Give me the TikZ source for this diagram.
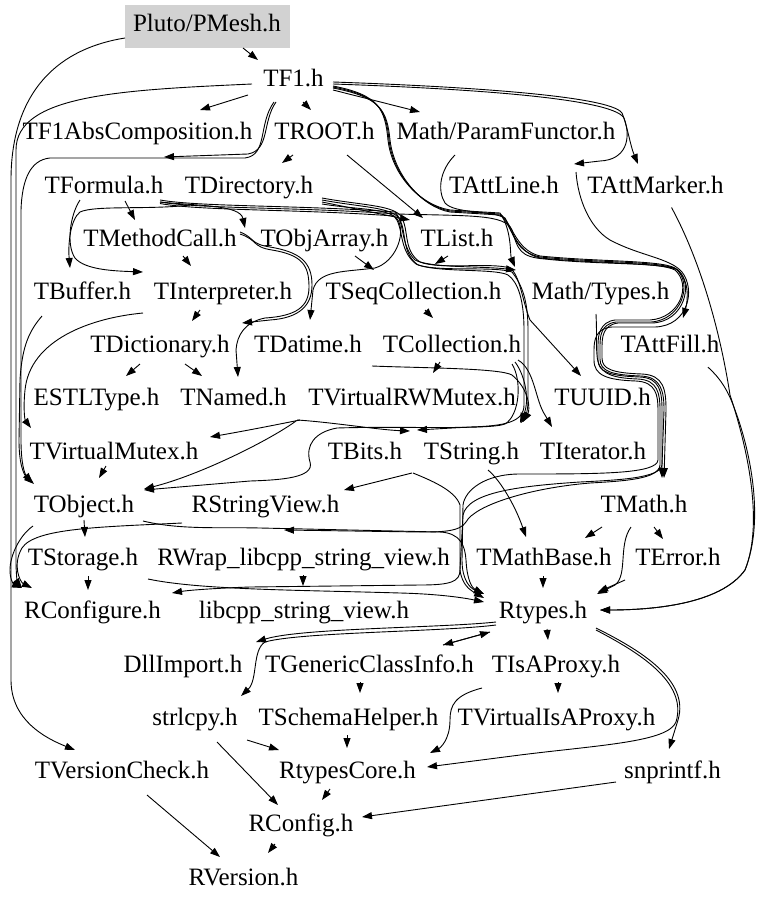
\documentclass[tikz,border=0pt]{standalone}
\usepackage{fontspec}
\setmainfont{Liberation Serif}
\usetikzlibrary{arrows.meta,calc}
\begin{document}
\begin{tikzpicture}[x=1pt,y=-1pt,
  nd/.style={font=\fontsize{25}{29}\selectfont, text height=16pt, text depth=5pt, inner sep=1pt, anchor=center},
  rootbox/.style={nd, fill=gray!35, minimum width=165pt, minimum height=43pt},
  e/.style={-{Triangle[length=10pt,width=7pt]}, line width=0.9pt}]
\useasboundingbox (0,0) rectangle (768,907);
% nodes
\node[rootbox] (pmesh) at (207,26.5) {Pluto/PMesh.h};
\node[nd] (tf1) at (293.5,81) {TF1.h};
\node[nd] (tfabs) at (137.5,134.3) {TF1AbsComposition.h};
\node[nd] (troot) at (324.5,134.3) {TROOT.h};
\node[nd] (param) at (506,134.3) {Math/ParamFunctor.h};
\node[nd] (tformula) at (104,187.5) {TFormula.h};
\node[nd] (tdirectory) at (249,187.5) {TDirectory.h};
\node[nd] (tattline) at (504,187.5) {TAttLine.h};
\node[nd] (tattmarker) at (655.5,187.5) {TAttMarker.h};
\node[nd] (tmethodcall) at (160,240.7) {TMethodCall.h};
\node[nd] (tobjarray) at (324.5,240.7) {TObjArray.h};
\node[nd] (tlist) at (457,240.7) {TList.h};
\node[nd] (tbuffer) at (82.5,294) {TBuffer.h};
\node[nd] (tinterp) at (223,294) {TInterpreter.h};
\node[nd] (tseqcoll) at (413.5,294) {TSeqCollection.h};
\node[nd] (mathtypes) at (600.5,294) {Math/Types.h};
\node[nd] (tdict) at (160,347.2) {TDictionary.h};
\node[nd] (tdatime) at (308,347.2) {TDatime.h};
\node[nd] (tcoll) at (452,347.2) {TCollection.h};
\node[nd] (tattfill) at (670,347.2) {TAttFill.h};
\node[nd] (estl) at (96.5,400.4) {ESTLType.h};
\node[nd] (tnamed) at (233.5,400.4) {TNamed.h};
\node[nd] (trwmutex) at (412,400.4) {TVirtualRWMutex.h};
\node[nd] (tuuid) at (602.5,400.4) {TUUID.h};
\node[nd] (tvmutex) at (114,453.6) {TVirtualMutex.h};
\node[nd] (tbits) at (365,453.6) {TBits.h};
\node[nd] (tstring) at (471.5,453.6) {TString.h};
\node[nd] (titer) at (593,453.6) {TIterator.h};
\node[nd] (tobject) at (84,506.9) {TObject.h};
\node[nd] (rsv) at (265.5,506.9) {RStringView.h};
\node[nd] (tmath) at (644,506.9) {TMath.h};
\node[nd] (tstorage) at (83,560.1) {TStorage.h};
\node[nd] (rwrap) at (303.5,560.1) {RWrap\_libcpp\_string\_view.h};
\node[nd] (tmathbase) at (544,560.1) {TMathBase.h};
\node[nd] (terror) at (678,560.1) {TError.h};
\node[nd] (rconf) at (92.5,613.3) {RConfigure.h};
\node[nd] (libcpp) at (304,613.3) {libcpp\_string\_view.h};
\node[nd] (rtypes) at (543,613.3) {Rtypes.h};
\node[nd] (dllimp) at (183,666.6) {DllImport.h};
\node[nd] (tgci) at (369.5,666.6) {TGenericClassInfo.h};
\node[nd] (tisa) at (556,666.6) {TIsAProxy.h};
\node[nd] (strlcpy) at (195,719.8) {strlcpy.h};
\node[nd] (tschema) at (348.5,719.8) {TSchemaHelper.h};
\node[nd] (tvisa) at (556.5,719.8) {TVirtualIsAProxy.h};
\node[nd] (tvc) at (122,773) {TVersionCheck.h};
\node[nd] (rtcore) at (347.5,773) {RtypesCore.h};
\node[nd] (snprintf) at (672.5,773) {snprintf.h};
\node[nd] (rconfig) at (301,826.3) {RConfig.h};
\node[nd] (rversion) at (243.5,879.5) {RVersion.h};
% ---- top edges
\draw[e] ($(pmesh)+(36,21.5)$) -- ($(tf1)+(-35.5,-21)$);
\draw[e] ($(pmesh)+(-82,11.5)$) .. controls (50,50) and (11,100) .. (11,180) -- (11,680) .. controls (11,720) and (45,738) .. ($(tvc)+(-47,-23)$);
\draw[e] ($(tf1)+(-41.5,3)$) .. controls (120,90) and (16,95) .. (16,150) -- (16,560) .. controls (16,578) and (18,583) .. ($(rconf)+(-70.5,-25.3)$);
\draw[e] ($(tf1)+(-45.5,14)$) -- ($(tfabs)+(62.5,-24.3)$);
\draw[e] ($(tf1)+(9.5,21)$) -- ($(troot)+(-13.5,-24.3)$);
\draw[e] ($(tf1)+(39.5,9)$) -- ($(param)+(-86,-22.3)$);
\draw[e] ($(tf1)+(39.5,1)$) .. controls (450,86) and (610,95) .. (622,113) .. controls (628,128) and (630,145) .. ($(tattmarker)+(-17.5,-23.5)$);
\draw[e] ($(tf1)+(39.5,3)$) .. controls (450,88) and (612,97) .. (624,118) .. controls (632,140) and (625,160) .. (600,161) -- ($(tattline)+(70,-23.5)$);
\draw[e] ($(tf1)+(-17.5,21)$) .. controls (262,122) and (270,150) .. (248,154) -- ($(tformula)+(60,-30.5)$);
\draw[e] ($(tf1)+(-19.5,21)$) .. controls (258,124) and (268,155) .. (245,158) -- (50,158) .. controls (30,160) and (22,180) .. (21,210) -- (21,440) .. controls (21,465) and (25,474) .. ($(tobject)+(-52,-23.9)$);
\draw[e] ($(troot)+(-31.5,20.7)$) -- ($(tdirectory)+(33,-24.5)$);
\draw[e] ($(troot)+(22.5,20.7)$) -- ($(tlist)+(-34,-22.7)$);
\draw[e] ($(tdirectory)+(73,14.5)$) -- ($(tlist)+(-47,-20.7)$);
% ---- bundles under TList and to the right
\draw[e] ($(tformula)+(56,12.5)$) .. controls (200,207) and (300,205) .. (395,212) .. controls (405,222) and (400,245) .. (415,260) .. controls (430,268) and (480,266) .. ($(mathtypes)+(-84.5,-24)$);
\draw[e] ($(tf1)+(39.5,5)$) .. controls (380,95) and (385,110) .. (388,140) .. controls (392,175) and (420,205) .. (450,210) -- (500,213) .. controls (512,230) and (510,255) .. ($(mathtypes)+(-85.5,-27)$);
\draw[e] ($(tf1)+(39.5,6)$) .. controls (380,96) and (386,110) .. (389,140) .. controls (393,175) and (421,206) .. (450,211) -- (500,214) .. controls (512,222) and (515,250) .. (540,256) .. controls (600,262) and (660,260) .. (675,268) .. controls (690,278) and (688,300) .. ($(tattfill)+(13,-29.2)$);
\draw[e] ($(tf1)+(39.5,7)$) .. controls (380,97) and (387,110) .. (390,140) .. controls (394,175) and (422,207) .. (450,212) -- (500,215) .. controls (512,224) and (514,252) .. (540,258) .. controls (600,264) and (660,262) .. (675,270) .. controls (692,285) and (680,318) .. (650,320) -- (615,320) .. controls (600,322) and (598,335) .. (598,345) -- (598,360) .. controls (598,372) and (610,376) .. (640,377) .. controls (660,378) and (662,392) .. (662,410) -- ($(tmath)+(18,-28.9)$);
\draw[e] ($(tformula)+(56,14.5)$) .. controls (200,209) and (300,207) .. (397,214) .. controls (470,216) and (505,214) .. (512,230) .. controls (518,250) and (520,257) .. (545,259) .. controls (600,265) and (662,262) .. (678,270) .. controls (694,284) and (684,322) .. (652,323) -- (618,323) .. controls (603,325) and (602,337) .. (602,347) -- (602,358) .. controls (602,369) and (612,373) .. (642,374) .. controls (664,375) and (666,390) .. (666,410) -- ($(tmath)+(20,-28.9)$);
\draw[e] ($(tattline)+(72,-15.5)$) .. controls (578,200) and (590,228) .. (610,240) .. controls (640,256) and (670,258) .. (682,272) .. controls (696,290) and (688,326) .. (655,327) -- (612,327) .. controls (596,328) and (594,340) .. (594,350) -- (594,360) .. controls (594,375) and (606,380) .. (636,381) .. controls (656,382) and (658,395) .. (658,410) -- (658,460) .. controls (657,474) and (600,474) .. (520,474) .. controls (485,474) and (465,490) .. (463,505) -- (462,560) .. controls (462,580) and (470,588) .. ($(rtypes)+(-59,-19.3)$);
\draw[e] ($(param)+(-51,20.7)$) .. controls (440,170) and (437,190) .. (445,203) .. controls (455,214) and (490,210) .. (505,218) .. controls (514,235) and (516,252) .. (540,257) .. controls (600,263) and (660,261) .. (676,269) .. controls (693,283) and (682,320) .. (651,322) -- (616,322) .. controls (601,324) and (600,336) .. (600,346) -- (600,359) .. controls (600,371) and (611,375) .. (641,376) .. controls (661,377) and (664,391) .. (664,410) -- (662,465) .. controls (660,478) and (620,480) .. (580,482) .. controls (520,486) and (468,492) .. (463,515) -- (460,570) .. controls (460,582) and (450,585) .. (420,585) -- (250,587) .. controls (220,588) and (190,590) .. ($(rconf)+(79.5,-20.3)$);
\draw[e] ($(mathtypes)+(-4.5,20)$) .. controls (597,335) and (596,345) .. (597,355) .. controls (598,372) and (608,378) .. (638,379) .. controls (658,380) and (660,394) .. (660,410) -- (660,465) .. controls (659,479) and (625,481) .. (590,483) .. controls (530,488) and (475,505) .. (466,522) .. controls (460,532) and (440,532) .. (420,532) -- ($(rsv)+(18.5,23.1)$);
\draw[e] ($(tdirectory)+(73,10.5)$) .. controls (360,205) and (390,205) .. (400,215) .. controls (410,228) and (402,250) .. (420,262) .. controls (440,270) and (490,262) .. (510,268) .. controls (520,275) and (522,300) .. (530,320) -- ($(tuuid)+(-21.5,-24.4)$);
\draw[e] ($(tdirectory)+(73,12.5)$) .. controls (360,207) and (388,207) .. (398,217) .. controls (408,230) and (400,252) .. (418,265) .. controls (440,272) and (495,266) .. (512,272) .. controls (522,285) and (528,300) .. (528,330) -- (528,400) .. controls (528,410) and (526,415) .. ($(tstring)+(49.5,-30.6)$);
\draw[e] ($(tformula)+(56,16)$) .. controls (200,211) and (300,209) .. (394,216) .. controls (404,226) and (398,250) .. (416,264) .. controls (435,273) and (495,268) .. (508,275) .. controls (518,282) and (524,300) .. (524,330) -- (524,405) .. controls (524,422) and (505,426) .. (470,427) -- ($(tbits)+(52,-23.6)$);
\draw[e] ($(tcoll)+(63,14.8)$) .. controls (525,375) and (530,400) .. ($(tstring)+(48.5,-30.6)$);
\draw[e] ($(tcoll)+(66,12.8)$) .. controls (535,370) and (535,400) .. (545,415) -- ($(titer)+(-41,-26.6)$);
\draw[e] ($(tcoll)+(60,16.8)$) .. controls (522,380) and (520,415) .. (505,424) .. controls (490,430) and (400,426) .. (337,428) .. controls (315,432) and (305,445) .. (310,462) .. controls (315,478) and (280,480) .. (250,481) -- ($(tobject)+(60,-16.9)$);
\draw[e] ($(tdatime)+(64,18.8)$) .. controls (420,368) and (500,368) .. (512,375) .. controls (530,390) and (530,410) .. ($(tstring)+(51.5,-31.6)$);
% ---- left middle
\draw[e] ($(tformula)+(21,13.5)$) -- ($(tmethodcall)+(-25,-20.7)$);
\draw[e] ($(tformula)+(56,14.5)$) .. controls (200,206) and (240,205) .. ($(tobjarray)+(-79.5,-12.7)$);
\draw[e] ($(tformula)+(-24,12.5)$) .. controls (70,215) and (66,245) .. (75,258) .. controls (85,270) and (115,271) .. ($(tinterp)+(-80,-22)$);
\draw[e] ($(tdirectory)+(-59,17.5)$) .. controls (150,210) and (95,205) .. (80,212) .. controls (70,220) and (68,245) .. ($(tbuffer)+(-12.5,-26)$);
\draw[e] ($(tmethodcall)+(23,15.3)$) -- ($(tinterp)+(-32,-28)$);
\draw[e] ($(tinterp)+(-23,16)$) -- ($(tdict)+(32,-26.2)$);
\draw[e] ($(tdict)+(-20,16.8)$) -- ($(estl)+(29.5,-24.4)$);
\draw[e] ($(tdict)+(25,16.8)$) -- ($(tnamed)+(-31.5,-24.4)$);
\draw[e] ($(tmethodcall)+(80,-8.7)$) .. controls (255,238) and (250,244) .. (270,247) .. controls (300,252) and (312,262) .. (312,285) .. controls (312,305) and (300,318) .. (270,320) -- ($(tdict)+(82,-24.2)$);
\draw[e] ($(tmethodcall)+(80,-6.7)$) .. controls (258,240) and (252,247) .. (272,250) .. controls (302,255) and (309,265) .. (309,287) .. controls (309,307) and (296,316) .. (265,318) .. controls (245,322) and (237,335) .. (236,350) -- ($(tnamed)+(4.5,-23.4)$);
\draw[e] ($(tdirectory)+(73,16.5)$) .. controls (360,210) and (390,208) .. (398,220) .. controls (406,235) and (395,262) .. (375,268) .. controls (345,272) and (318,270) .. (313,290) -- ($(tdatime)+(2,-27.2)$);
\draw[e] ($(tobjarray)+(30.5,15.3)$) -- ($(tseqcoll)+(-39.5,-24)$);
\draw[e] ($(tlist)+(-9,15.3)$) -- ($(tseqcoll)+(21.5,-30)$);
\draw[e] ($(tseqcoll)+(11.5,16)$) -- ($(tcoll)+(-19,-29.2)$);
\draw[e] ($(tcoll)+(-12,14.8)$) -- ($(trwmutex)+(21,-27.4)$);
\draw[e] ($(trwmutex)+(-112,19.6)$) .. controls (280,424) and (250,430) .. ($(tvmutex)+(96,-16.6)$);
\draw[e] ($(tnamed)+(63.5,19.6)$) .. controls (330,422) and (380,430) .. ($(tstring)+(-61.5,-22.6)$);
\draw[e] ($(tnamed)+(62.5,20.6)$) .. controls (270,440) and (200,475) .. ($(tobject)+(60,-17.9)$);
\draw[e] ($(tvmutex)+(-8,12.4)$) -- ($(tobject)+(15,-28.9)$);
\draw[e] ($(tinterp)+(-80,19)$) .. controls (90,318) and (30,340) .. (25,390) .. controls (23,410) and (25,420) .. ($(tvmutex)+(-83,-25.6)$);
\draw[e] ($(tbuffer)+(-40.5,22)$) .. controls (30,330) and (22,345) .. (20,380) -- (19,440) .. controls (19,465) and (24,475) .. ($(tobject)+(-50,-22.9)$);
% ---- bottom part
\draw[e] ($(tobject)+(0,13.1)$) -- ($(tstorage)+(2,-23.1)$);
\draw[e] ($(tobject)+(-51,19.1)$) .. controls (20,535) and (10,555) .. (10,570) .. controls (10,582) and (15,585) .. ($(rconf)+(-70.5,-25.3)$);
\draw[e] ($(rsv)+(-83.5,16.1)$) .. controls (100,527) and (35,528) .. (22,548) .. controls (12,565) and (20,582) .. ($(rconf)+(-60.5,-25.3)$);
\draw[e] ($(tobject)+(59,14.1)$) .. controls (180,530) and (220,527) .. (260,528) -- (440,532) .. controls (460,533) and (465,545) .. (466,560) .. controls (467,580) and (472,588) .. ($(rtypes)+(-59,-19.3)$);
\draw[e] ($(tstorage)+(5,15.9)$) -- ($(rconf)+(-4.5,-23.3)$);
\draw[e] ($(tstorage)+(65,18.9)$) .. controls (200,590) and (300,590) .. (400,593) .. controls (440,594) and (465,598) .. ($(rtypes)+(-59,-11.3)$);
\draw[e] ($(tstring)+(-59.5,19.4)$) -- ($(rsv)+(78.5,-16.9)$);
\draw[e] ($(tstring)+(-58.5,19.4)$) .. controls (430,480) and (455,490) .. (460,505) -- (460,570) .. controls (462,585) and (470,590) .. ($(rtypes)+(-59,-15.3)$);
\draw[e] ($(tstring)+(16.5,16.4)$) .. controls (500,480) and (515,505) .. ($(tmathbase)+(-18,-23.1)$);
\draw[e] ($(rwrap)+(-0.5,14.9)$) -- ($(libcpp)+(-1,-27.3)$);
\draw[e] ($(tmathbase)+(-1,15.9)$) -- ($(rtypes)+(0,-25.3)$);
\draw[e] ($(tmath)+(-42,20.1)$) -- ($(tmathbase)+(41,-22.1)$);
\draw[e] ($(tmath)+(10,20.1)$) -- ($(terror)+(-15,-21.1)$);
\draw[e] ($(tmath)+(-13,20.1)$) .. controls (618,545) and (628,575) .. (615,585) -- ($(rtypes)+(54,-19.3)$);
\draw[e] ($(terror)+(-53,19.9)$) -- ($(rtypes)+(55,-21.3)$);
\draw[e] ($(tattmarker)+(16,20)$) .. controls (700,260) and (720,330) .. (730,395) .. controls (745,440) and (765,520) .. (745,570) .. controls (720,605) and (650,610) .. ($(rtypes)+(57,-3.3)$);
\draw[e] ($(tattfill)+(38,20)$) .. controls (720,378) and (728,390) .. (735,410) .. controls (750,450) and (765,520) .. (745,570) .. controls (720,605) and (650,610) .. ($(rtypes)+(57,-3.3)$);
\draw[e] ($(rtypes)+(-47,8.7)$) .. controls (440,628) and (300,628) .. ($(dllimp)+(73,-24.6)$);
\draw[e] ($(rtypes)+(-47,11.7)$) .. controls (440,632) and (300,632) .. (265,642) .. controls (252,650) and (258,680) .. ($(strlcpy)+(46,-23.8)$);
\draw[e] ($(rtypes)+(-53,18.7)$) -- ($(tgci)+(73.5,-21.6)$);
\draw[e] ($(tgci)+(73.5,-21.6)$) -- ($(rtypes)+(-53,18.7)$);
\draw[e] ($(rtypes)+(4,15.7)$) -- ($(tisa)+(-8,-26.6)$);
\draw[e] ($(rtypes)+(53,14.7)$) .. controls (640,650) and (690,680) .. (678,720) -- ($(snprintf)+(-3.5,-24)$);
\draw[e] ($(rtypes)+(53,16.7)$) .. controls (638,652) and (688,682) .. (676,722) .. controls (668,742) and (600,745) .. (520,755) -- ($(rtcore)+(79.5,-6)$);
\draw[e] ($(tgci)+(-9.5,15.4)$) -- ($(tschema)+(11.5,-26.8)$);
\draw[e] ($(tschema)+(-1.5,15.2)$) -- ($(rtcore)+(-0.5,-25)$);
\draw[e] ($(tisa)+(2,15.4)$) -- ($(tvisa)+(1.5,-26.8)$);
\draw[e] ($(tisa)+(-74,21.4)$) .. controls (455,695) and (450,705) .. (450,720) .. controls (450,740) and (440,748) .. ($(rtcore)+(82.5,-20)$);
\draw[e] ($(rtcore)+(-17.5,16)$) -- ($(rconfig)+(21,-26.3)$);
\draw[e] ($(snprintf)+(-56.5,9)$) -- ($(rconfig)+(61,-9.3)$);
\draw[e] ($(strlcpy)+(22,22.2)$) -- ($(rconfig)+(-23,-21.3)$);
\draw[e] ($(strlcpy)+(52,20.2)$) -- ($(rtcore)+(-68.5,-23)$);
\draw[e] ($(tvc)+(25,22)$) -- ($(rversion)+(-23.5,-22.5)$);
\draw[e] ($(rconfig)+(-26,17.7)$) -- ($(rversion)+(24.5,-26.5)$);
\end{tikzpicture}
\end{document}
